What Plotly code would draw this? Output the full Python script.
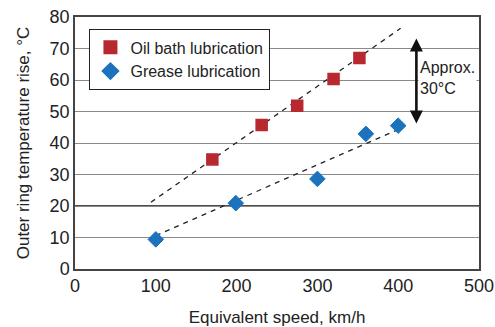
import plotly.graph_objects as go

# Data
oil_speed = [170, 231, 275, 320, 352]
oil_rise = [34.8, 45.7, 51.8, 60.3, 67.0]
grease_speed = [100, 199, 300, 360, 400]
grease_rise = [9.4, 20.9, 28.6, 42.9, 45.5]

oil_fit_x = [94, 403]
oil_fit_y = [21.2, 76.4]
grease_fit_x = [100, 400]
grease_fit_y = [10.6, 44.3]

arrow_x = 422.5
arrow_y = [45.7, 73.2]
note_text = "Approx.<br>30°C"
dark_grid_y = 20

x_ticks = [0, 100, 200, 300, 400, 500]
y_ticks = [0, 10, 20, 30, 40, 50, 60, 70, 80]

RED = "#B8282F"
BLUE = "#1C72BD"
FONT = "Liberation Sans, Arial, sans-serif"

fig = go.Figure()

fig.add_trace(go.Scatter(x=oil_fit_x, y=oil_fit_y, mode="lines",
                         line=dict(color="#222", width=1.3, dash="5px,5px"),
                         showlegend=False, hoverinfo="skip"))
fig.add_trace(go.Scatter(x=grease_fit_x, y=grease_fit_y, mode="lines",
                         line=dict(color="#222", width=1.3, dash="5px,5px"),
                         showlegend=False, hoverinfo="skip"))

fig.add_trace(go.Scatter(x=oil_speed, y=oil_rise, mode="markers",
                         name="Oil bath lubrication",
                         marker=dict(symbol="square", size=11, color=RED,
                                     line=dict(color=RED, width=1.5))))
fig.add_trace(go.Scatter(x=grease_speed, y=grease_rise, mode="markers",
                         name="Grease lubrication",
                         marker=dict(symbol="diamond", size=12, color=BLUE,
                                     line=dict(color=BLUE, width=1))))

fig.add_hline(y=dark_grid_y, line=dict(color="#111", width=1.3), layer="below")

fig.add_annotation(x=arrow_x, y=arrow_y[1], ax=arrow_x, ay=arrow_y[0],
                   xref="x", yref="y", axref="x", ayref="y",
                   showarrow=True, arrowhead=2, arrowside="end+start",
                   arrowsize=1.0, arrowwidth=2.6, arrowcolor="#111", text="")
fig.add_annotation(x=arrow_x + 1.5, y=60.6, xref="x", yref="y", text=note_text,
                   showarrow=False, xanchor="left", yanchor="middle", align="left",
                   bgcolor="white", borderpad=1,
                   font=dict(family=FONT, size=16, color="#222"))

fig.update_layout(
    width=495, height=327,
    margin=dict(l=75, r=16, t=17, b=58, autoexpand=False),
    paper_bgcolor="white", plot_bgcolor="white",
    font=dict(family=FONT, size=18, color="#222"),
    showlegend=True,
    legend=dict(x=0.035, y=0.952, xanchor="left", yanchor="top",
                bgcolor="white", bordercolor="#222", borderwidth=1.3,
                font=dict(family=FONT, size=16, color="#222"),
                itemsizing="constant", tracegroupgap=6, itemwidth=30),
    xaxis=dict(range=[0, 500], tickvals=x_ticks, showgrid=False, zeroline=False,
               showline=True, linecolor="#444", linewidth=1.5, mirror=True,
               ticks="", ticklen=0, automargin=False,
               title=dict(text="Equivalent speed, km/h", standoff=18,
                          font=dict(size=17, family=FONT, color="#222"))),
    yaxis=dict(range=[0, 80], tickvals=y_ticks, showgrid=True,
               gridcolor="#8a8a8a", gridwidth=1.3, zeroline=False,
               showline=True, linecolor="#444", linewidth=1.5, mirror=True,
               ticks="", ticklen=0, automargin=False,
               title=dict(text="Outer ring temperature rise, °C", standoff=16,
                          font=dict(size=17, family=FONT, color="#222"))),
)

fig.write_html("out.html", config={"displayModeBar": False},
               post_script="document.body.style.margin='0';document.body.style.overflow='hidden';")
